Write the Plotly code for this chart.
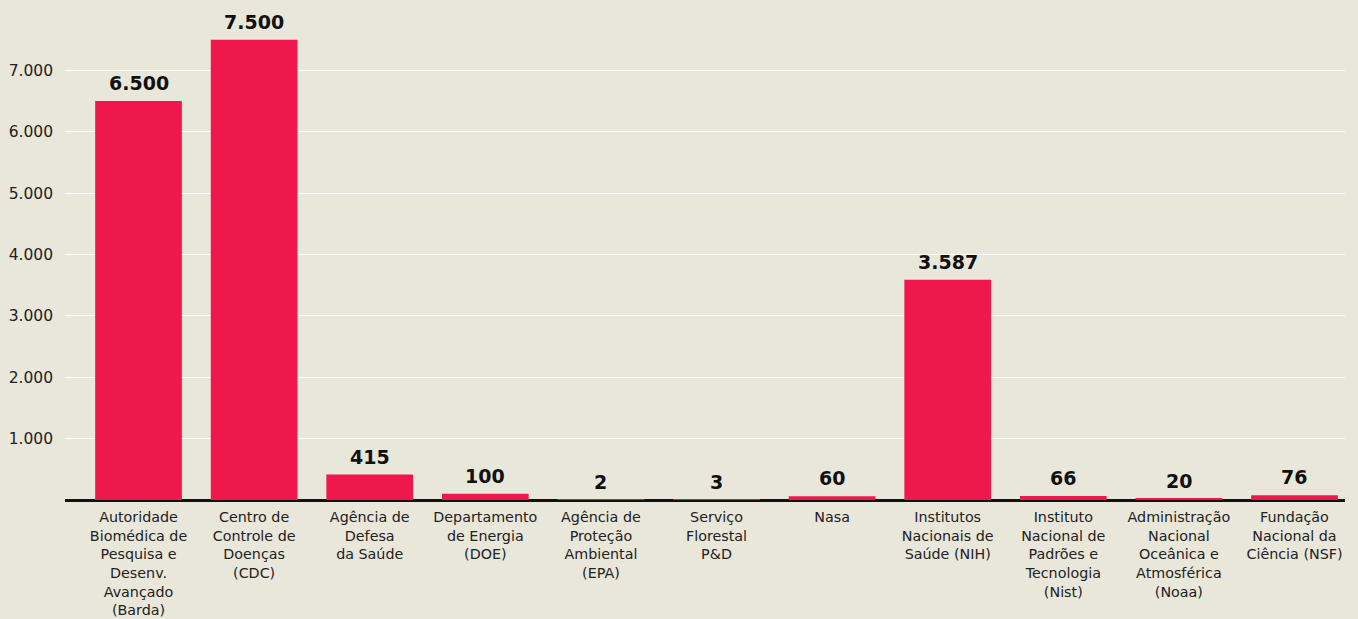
import plotly.graph_objects as go

categories = [
    "Autoridade<br>Biomédica de<br>Pesquisa e<br>Desenv.<br>Avançado<br>(Barda)",
    "Centro de<br>Controle de<br>Doenças<br>(CDC)",
    "Agência de<br>Defesa<br>da Saúde",
    "Departamento<br>de Energia<br>(DOE)",
    "Agência de<br>Proteção<br>Ambiental<br>(EPA)",
    "Serviço<br>Florestal<br>P&D",
    "Nasa",
    "Institutos<br>Nacionais de<br>Saúde (NIH)",
    "Instituto<br>Nacional de<br>Padrões e<br>Tecnologia<br>(Nist)",
    "Administração<br>Nacional<br>Oceânica e<br>Atmosférica<br>(Noaa)",
    "Fundação<br>Nacional da<br>Ciência (NSF)",
]
values = [6500, 7500, 415, 100, 2, 3, 60, 3587, 66, 20, 76]
y_ticks = [1000, 2000, 3000, 4000, 5000, 6000, 7000]

BG = "#E9E6DA"
BAR = "#EF184D"

xs = list(range(len(categories)))

fig = go.Figure(go.Bar(
    x=xs,
    y=values,
    marker=dict(color=BAR, line=dict(width=0)),
    width=0.75,
    hoverinfo="skip",
))

def fmt(v):
    return f"{v:,}".replace(",", ".")

for x, v in zip(xs, values):
    fig.add_annotation(
        x=x, y=v, xref="x", yref="y",
        text=fmt(v), showarrow=False,
        yanchor="bottom", yshift=5,
        font=dict(family="DejaVu Sans", size=19, color="#111111", weight="bold"),
    )

fig.update_layout(
    width=1358, height=619,
    margin=dict(l=65, r=13, t=9, b=119),
    paper_bgcolor=BG, plot_bgcolor=BG,
    separators=",.",
    showlegend=False,
    xaxis=dict(
        tickmode="array",
        tickvals=xs,
        ticktext=categories,
        range=[-0.636, 10.437],
        showgrid=False, zeroline=False, showline=False,
        ticks="", ticklabelstandoff=7,
        automargin=False,
        tickfont=dict(family="DejaVu Sans", size=14.3, color="#222222"),
        tickangle=0,
    ),
    yaxis=dict(
        range=[0, 8000],
        tickvals=y_ticks,
        tickformat=",d",
        showgrid=True, gridcolor="#FFFFFF", gridwidth=1,
        zeroline=True, zerolinecolor="#111111", zerolinewidth=3,
        showline=False, ticks="",
        ticklabelstandoff=11,
        automargin=False,
        tickfont=dict(family="DejaVu Sans", size=15.5, color="#222222"),
    ),
)

fig.write_html("out.html")
